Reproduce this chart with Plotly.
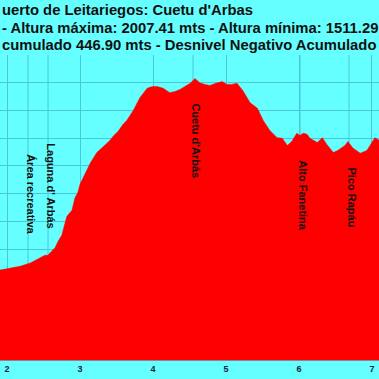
import plotly.graph_objects as go

# distance (km) and altitude (m) read from the profile
km = [1.90, 2.04, 2.18, 2.32, 2.45, 2.52, 2.56, 2.59, 2.66, 2.70, 2.75, 2.82, 2.89,
      2.93, 2.97, 3.00, 3.04, 3.14, 3.23, 3.32, 3.37, 3.41, 3.45, 3.52, 3.59, 3.64,
      3.73, 3.82, 3.92, 3.99, 4.06, 4.14, 4.23, 4.30, 4.37, 4.44, 4.51, 4.575, 4.64,
      4.71, 4.78, 4.86, 4.95, 5.01, 5.08, 5.15, 5.23, 5.33, 5.43, 5.51, 5.60, 5.70,
      5.77, 5.84, 5.90, 5.97, 6.01, 6.06, 6.11, 6.15, 6.25, 6.32, 6.38, 6.47, 6.53,
      6.63, 6.67, 6.74, 6.84, 6.93, 7.00, 7.04, 7.10]
alt = [1662, 1666, 1669, 1675, 1684, 1689, 1689, 1693, 1703, 1714, 1725, 1759, 1770,
       1792, 1802, 1817, 1828, 1855, 1874, 1885, 1892, 1896, 1903, 1912, 1925, 1932,
       1950, 1973, 1990, 1993, 1993, 1990, 1982, 1984, 1988, 1993, 1999, 2007.41, 2000,
       1997, 1995, 1999, 2002, 1997, 1997, 1999, 1986, 1964, 1954, 1932, 1914, 1901,
       1900, 1887, 1894, 1909, 1905, 1909, 1907, 1900, 1892, 1901, 1889, 1874, 1878,
       1887, 1894, 1882, 1873, 1878, 1892, 1901, 1896]

# waypoints
wp_names = ["Área recreativa", "Laguna d' Arbás", "Cuetu d'Arbás", "Alto Fanetina", "Pico Rapáu"]
wp_km = [2.288, 2.562, 4.548, 6.014, 6.685]
wp_label_alt = [1799, 1815, 1896, 1797, 1793]

title_lines = ["uerto de Leitariegos: Cuetu d'Arbas",
               "- Altura máxima: 2007.41 mts - Altura mínima: 1511.29",
               "cumulado 446.90 mts - Desnivel Negativo Acumulado"]
title_y = [1.1475, 1.0885, 1.0328]

x_ticks = [2, 3, 4, 5, 6, 7]

CYAN = "#66FFFF"
GRID = "#48C8DC"
FONT = "Liberation Sans, Arial, sans-serif"

fig = go.Figure()
fig.add_trace(go.Scatter(x=km, y=alt, mode="lines", fill="tozeroy",
                         line=dict(color="#FF0000", width=0.5),
                         fillcolor="#FF0000", hoverinfo="skip", showlegend=False))

shapes = []
annotations = []
for name, k, a in zip(wp_names, wp_km, wp_label_alt):
    shapes.append(dict(type="line", xref="x", yref="paper", x0=k, x1=k, y0=0, y1=1,
                       line=dict(color=GRID, width=1), layer="below"))
    annotations.append(dict(x=k, y=a, xref="x", yref="y", text=name, textangle=90,
                            showarrow=False, xanchor="center", yanchor="middle", xshift=3,
                            font=dict(family=FONT, size=11, color="#111111", weight="bold")))

for t, yy in zip(title_lines, title_y):
    annotations.append(dict(x=0, y=yy, xref="paper", yref="paper", text=t,
                            showarrow=False, xanchor="left", yanchor="middle",
                            font=dict(family=FONT, size=14.8, color="#111111", weight="bold")))

fig.update_layout(
    width=379, height=379,
    margin=dict(l=0, r=0, t=55, b=19),
    paper_bgcolor=CYAN, plot_bgcolor=CYAN,
    shapes=shapes, annotations=annotations,
    xaxis=dict(range=[1.904, 7.096], tickvals=x_ticks, ticktext=[str(v) for v in x_ticks],
               showgrid=True, gridcolor=GRID, gridwidth=1, zeroline=False,
               showline=True, linecolor="#888888", linewidth=1, ticks="",
               tickfont=dict(family=FONT, size=9, color="#1a2440", weight="bold")),
    yaxis=dict(range=[1500, 2050], dtick=50, tick0=1500, showgrid=True, gridcolor=GRID,
               gridwidth=1, zeroline=False, showticklabels=False, ticks=""),
)

fig.write_html("out.html", config={"displayModeBar": False},
               post_script="document.body.style.margin='0';document.body.style.padding='0';document.body.style.overflow='hidden';")
